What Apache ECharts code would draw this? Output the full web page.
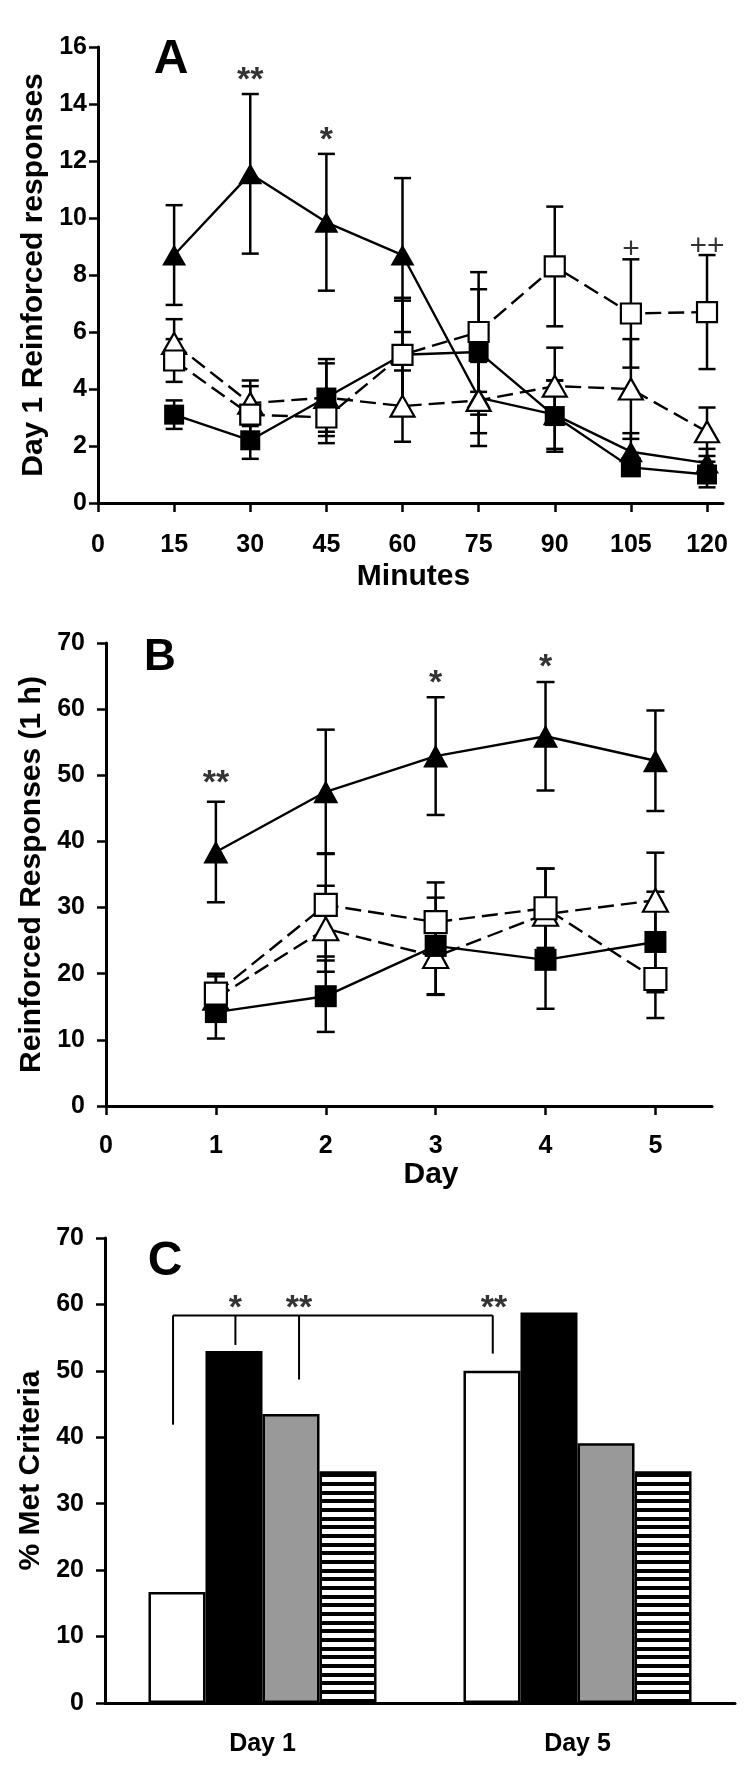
<!DOCTYPE html>
<html><head><meta charset="utf-8">
<script src="https://cdn.jsdelivr.net/npm/echarts@6/dist/echarts.min.js"></script>
<style>html,body{margin:0;padding:0;background:#fff}#c{width:752px;height:1783px}</style>
</head><body><div id="c"></div>
<script>
// ---------- Panel A data (Day 1, 15-min bins) ----------
const minutes = [15, 30, 45, 60, 75, 90, 105, 120];
const minuteTicks = [0, 15, 30, 45, 60, 75, 90, 105, 120];
const aFilledTri = [8.7, 11.55, 9.85, 8.7, 3.7, 3.1, 1.8, 1.4];
const aFilledTriSem = [1.75, 2.8, 2.4, 2.7, 1.25, 1.2, 0.65, 0.5];
const aOpenTri = [5.6, 3.5, 3.7, 3.4, 3.6, 4.1, 4.0, 2.5];
const aOpenTriSem = [0.85, 0.8, 1.2, 1.25, 1.6, 1.35, 1.75, 0.85];
const aFilledSq = [3.1, 2.2, 3.7, 5.2, 5.3, 3.05, 1.25, 1.0];
const aFilledSqSem = [0.5, 0.65, 1.35, 1.9, 2.2, 1.25, 0.2, 0.45];
const aOpenSq = [5.0, 3.1, 3.0, 5.2, 6.0, 8.3, 6.65, 6.7];
const aOpenSqSem = [0.75, 1.0, 0.9, 2.0, 2.1, 2.1, 1.9, 2.0];
const aMarkX = [30, 45, 105, 120];
const aMarkY = [15.1, 13.0, 8.9, 9.0];
const aMarkText = ['**', '*', '+', '++'];

// ---------- Panel B data (1 h sessions, days 1-5) ----------
const days = [1, 2, 3, 4, 5];
const dayTicks = [0, 1, 2, 3, 4, 5];
const bFilledTri = [38.4, 47.5, 52.9, 55.9, 52.2];
const bFilledTriSem = [7.6, 9.4, 8.9, 8.2, 7.6];
const bOpenTri = [16.3, 26.8, 22.6, 29.0, 31.1];
const bOpenTriSem = [3.3, 6.5, 5.8, 6.9, 7.2];
const bFilledSq = [14.2, 16.6, 24.2, 22.1, 24.8];
const bFilledSqSem = [4.0, 5.4, 7.3, 7.4, 7.6];
const bOpenSq = [17.0, 30.4, 27.8, 29.9, 19.2];
const bOpenSqSem = [3.0, 7.8, 6.0, 6.0, 5.9];
const bMarkX = [1, 3, 4];
const bMarkY = [49.9, 65.1, 67.5];
const bMarkText = ['**', '*', '*'];

// ---------- Panel C data (% met criteria) ----------
const cCategories = ['Day 1', 'Day 5'];
const cWhite = [16.7, 50.0];
const cBlack = [53.0, 58.8];
const cGray = [43.5, 39.1];
const cStriped = [34.9, 34.9];
const cBracketX = [0.216, 0.414, 0.616, 1.231];
const cBracketLow = [41.9, 53.9, 48.7, 52.6];
const cBracketTop = 58.35;
const cMarkX = [0.414, 0.616, 1.235];
const cMarkY = [60.6, 60.6, 60.6];
const cMarkText = ['*', '**', '**'];

const FONT = '"Liberation Sans", Arial, Helvetica, sans-serif';
const chart = echarts.init(document.getElementById('c'), null, {renderer: 'canvas'});

// striped pattern
const pc = document.createElement('canvas');
pc.width = 4; pc.height = 26;
const g = pc.getContext('2d');
g.fillStyle = '#fff'; g.fillRect(0, 0, 4, 26);
g.fillStyle = '#000';
g.fillRect(0, 0, 4, 4); g.fillRect(0, 9, 4, 4); g.fillRect(0, 17, 4, 4);

const lbl = (extra) => Object.assign({color: '#000', fontFamily: FONT, fontWeight: 'bold', fontSize: 25}, extra);
const nameStyle = (extra) => Object.assign({color: '#000', fontFamily: FONT, fontWeight: 'bold', fontSize: 30}, extra);
const axLine = {show: true, onZero: false, lineStyle: {color: '#000', width: 3}};
const tick = (extra) => Object.assign({show: true, length: 9, lineStyle: {color: '#000', width: 2.5}}, extra);

function errSeries(xi, xs, means, sems, capHalf) {
  return {
    type: 'custom', xAxisIndex: xi, yAxisIndex: xi, z: 1, silent: true, animation: false,
    encode: {x: 0, y: [1, 2]},
    data: xs.map((x, i) => [x, means[i] - sems[i], means[i] + sems[i]]),
    renderItem(params, api) {
      const x = api.value(0);
      const lo = api.coord([x, api.value(1)]);
      const hi = api.coord([x, api.value(2)]);
      const st = {stroke: '#000', lineWidth: 2.5};
      return {type: 'group', children: [
        {type: 'line', shape: {x1: lo[0], y1: lo[1], x2: hi[0], y2: hi[1]}, style: st},
        {type: 'line', shape: {x1: lo[0] - capHalf, y1: lo[1], x2: lo[0] + capHalf, y2: lo[1]}, style: st},
        {type: 'line', shape: {x1: hi[0] - capHalf, y1: hi[1], x2: hi[0] + capHalf, y2: hi[1]}, style: st}
      ]};
    }
  };
}

function lineSeries(xi, xs, ys, filled, tri, dashed, triSize, sqSize) {
  return {
    type: 'line', xAxisIndex: xi, yAxisIndex: xi, z: 2, animation: false, silent: true,
    data: xs.map((x, i) => [x, ys[i]]),
    symbol: tri ? 'triangle' : 'rect',
    symbolSize: tri ? triSize : sqSize,
    showAllSymbol: true,
    itemStyle: {color: filled ? '#000' : '#fff', borderColor: '#000', borderWidth: filled ? 0 : 2.2, opacity: 1},
    lineStyle: {color: '#000', width: 2.4, type: dashed ? [16, 7] : 'solid'},
    emphasis: {disabled: true}
  };
}

function markSeries(xi, xs, ys, texts, font, weight, dy) {
  return {
    type: 'scatter', xAxisIndex: xi, yAxisIndex: xi, z: 3, silent: true, animation: false,
    symbolSize: 1, itemStyle: {color: 'rgba(0,0,0,0)'},
    data: xs.map((x, i) => ({value: [x, ys[i]], name: texts[i]})),
    label: {show: true, position: 'inside', formatter: '{b}', color: '#000',
      fontFamily: FONT, fontSize: font, fontWeight: weight, offset: [0, dy]}
  };
}

const series = [
  // Panel A
  errSeries(0, minutes, aFilledTri, aFilledTriSem, 8.5),
  errSeries(0, minutes, aOpenTri, aOpenTriSem, 8.5),
  errSeries(0, minutes, aFilledSq, aFilledSqSem, 8.5),
  errSeries(0, minutes, aOpenSq, aOpenSqSem, 8.5),
  lineSeries(0, minutes, aFilledTri, true, true, false, [24, 21], [20, 20]),
  lineSeries(0, minutes, aOpenTri, false, true, true, [24, 21], [20, 20]),
  lineSeries(0, minutes, aFilledSq, true, false, false, [24, 21], [20, 20]),
  lineSeries(0, minutes, aOpenSq, false, false, true, [24, 21], [20, 20]),
  markSeries(0, aMarkX.slice(0, 2), aMarkY.slice(0, 2), aMarkText.slice(0, 2), 34, 'bold', 8),
  markSeries(0, aMarkX.slice(2), aMarkY.slice(2), aMarkText.slice(2), 30, 'normal', 0),
  // Panel B
  errSeries(1, days, bFilledTri, bFilledTriSem, 9),
  errSeries(1, days, bOpenTri, bOpenTriSem, 9),
  errSeries(1, days, bFilledSq, bFilledSqSem, 9),
  errSeries(1, days, bOpenSq, bOpenSqSem, 9),
  lineSeries(1, days, bFilledTri, true, true, false, [25, 23], [22, 22]),
  lineSeries(1, days, bOpenTri, false, true, true, [25, 23], [22, 22]),
  lineSeries(1, days, bFilledSq, true, false, false, [25, 23], [22, 22]),
  lineSeries(1, days, bOpenSq, false, false, true, [25, 23], [22, 22]),
  markSeries(1, bMarkX, bMarkY, bMarkText, 34, 'bold', 8),
  // Panel C bars
  {type: 'bar', xAxisIndex: 2, yAxisIndex: 2, data: cWhite, barGap: '0%', barCategoryGap: '27.6%',
    itemStyle: {color: '#fff', borderColor: '#000', borderWidth: 2.5}, animation: false, silent: true},
  {type: 'bar', xAxisIndex: 2, yAxisIndex: 2, data: cBlack, barGap: '0%', barCategoryGap: '27.6%',
    itemStyle: {color: '#000', borderColor: '#000', borderWidth: 2.5}, animation: false, silent: true},
  {type: 'bar', xAxisIndex: 2, yAxisIndex: 2, data: cGray, barGap: '0%', barCategoryGap: '27.6%',
    itemStyle: {color: '#999999', borderColor: '#000', borderWidth: 2.5}, animation: false, silent: true},
  {type: 'bar', xAxisIndex: 2, yAxisIndex: 2, data: cStriped, barGap: '0%', barCategoryGap: '27.6%',
    itemStyle: {color: {image: pc, repeat: 'repeat'}, borderColor: '#000', borderWidth: 2.5}, animation: false, silent: true},
  // Panel C bracket
  {type: 'custom', xAxisIndex: 3, yAxisIndex: 3, z: 3, silent: true, animation: false,
    encode: {x: 0, y: [1, 2]},
    data: cBracketX.map((x, i) => [x, cBracketLow[i], cBracketTop]),
    renderItem(params, api) {
      const x = api.value(0);
      const lo = api.coord([x, api.value(1)]);
      const hi = api.coord([x, api.value(2)]);
      const children = [{type: 'line', shape: {x1: lo[0], y1: lo[1], x2: hi[0], y2: hi[1]}, style: {stroke: '#000', lineWidth: 2}}];
      if (params.dataIndex === 0) {
        const r = api.coord([cBracketX[cBracketX.length - 1], api.value(2)]);
        children.push({type: 'line', shape: {x1: hi[0], y1: hi[1], x2: r[0], y2: r[1]}, style: {stroke: '#000', lineWidth: 2}});
      }
      return {type: 'group', children};
    }
  },
  markSeries(3, cMarkX, cMarkY, cMarkText, 34, 'bold', 8)
];

const option = {
  backgroundColor: '#fff',
  animation: false,
  grid: [
    {left: 98, top: 47, width: 625, height: 456},
    {left: 106, top: 643, width: 606, height: 463},
    {left: 105, top: 1238, width: 630, height: 465},
    {left: 105, top: 1238, width: 630, height: 465}
  ],
  xAxis: [
    {gridIndex: 0, type: 'value', min: 0, max: 123.15, interval: 15, splitLine: {show: false},
      axisLine: axLine, axisTick: tick({customValues: minuteTicks}),
      axisLabel: lbl({margin: 30, customValues: minuteTicks}),
      name: 'Minutes', nameLocation: 'middle', nameGap: 59, nameTextStyle: nameStyle({padding: [0, 0, 0, 6]})},
    {gridIndex: 1, type: 'value', min: 0, max: 5.515, interval: 1, splitLine: {show: false},
      axisLine: axLine, axisTick: tick({customValues: dayTicks}),
      axisLabel: lbl({margin: 28, customValues: dayTicks}),
      name: 'Day', nameLocation: 'middle', nameGap: 53, nameTextStyle: nameStyle({padding: [0, 0, 0, 44]})},
    {gridIndex: 2, type: 'category', data: cCategories, splitLine: {show: false},
      axisLine: axLine, axisTick: {show: false}, axisLabel: lbl({margin: 29})},
    {gridIndex: 3, type: 'value', min: 0, max: 2, show: false}
  ],
  yAxis: [
    {gridIndex: 0, type: 'value', min: 0, max: 16, interval: 2, splitLine: {show: false},
      axisLine: axLine, axisTick: tick({}), axisLabel: lbl({margin: 11}),
      name: 'Day 1 Reinforced responses', nameLocation: 'middle', nameGap: 44, nameTextStyle: nameStyle({})},
    {gridIndex: 1, type: 'value', min: 0, max: 70, interval: 10, splitLine: {show: false},
      axisLine: axLine, axisTick: tick({}), axisLabel: lbl({margin: 21}),
      name: 'Reinforced Responses (1 h)', nameLocation: 'middle', nameGap: 52, nameTextStyle: nameStyle({})},
    {gridIndex: 2, type: 'value', min: 0, max: 70, interval: 10, splitLine: {show: false},
      axisLine: axLine, axisTick: tick({}), axisLabel: lbl({margin: 21}),
      name: '% Met Criteria', nameLocation: 'middle', nameGap: 51, nameTextStyle: nameStyle({})},
    {gridIndex: 3, type: 'value', min: 0, max: 70, show: false}
  ],
  graphic: [
    {type: 'text', x: 171, y: 60, style: {text: 'A', font: 'bold 48px ' + FONT, fill: '#000', textAlign: 'center', textVerticalAlign: 'middle'}},
    {type: 'text', x: 160, y: 658, style: {text: 'B', font: 'bold 44px ' + FONT, fill: '#000', textAlign: 'center', textVerticalAlign: 'middle'}},
    {type: 'text', x: 165, y: 1262, style: {text: 'C', font: 'bold 48px ' + FONT, fill: '#000', textAlign: 'center', textVerticalAlign: 'middle'}}
  ],
  series
};
chart.setOption(option);
</script>
</body></html>
